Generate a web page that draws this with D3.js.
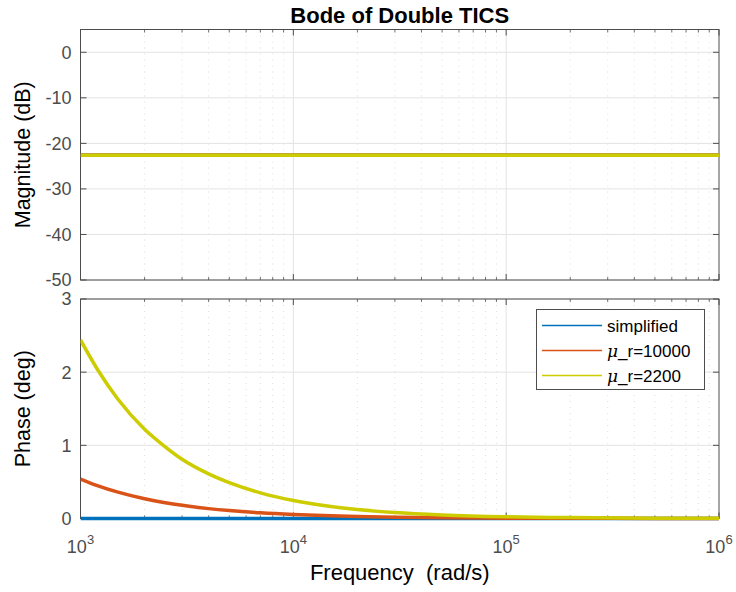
<!DOCTYPE html>
<html>
<head>
<meta charset="utf-8">
<script src="https://cdn.jsdelivr.net/npm/d3@7"></script>
<style>
  html, body { margin: 0; padding: 0; background: #fff; }
  svg { display: block; font-family: "Liberation Sans", Arial, Helvetica, sans-serif; }
</style>
</head>
<body>
<svg id="chart" width="736" height="592"></svg>
<script>
// Frequency samples (rad/s)
const freq = [1000, 1200, 1500, 2000, 2500, 3000, 4000, 5000, 7000, 10000,
              15000, 20000, 30000, 50000, 100000, 200000, 500000, 1000000];

// Magnitude (dB) for each model
const magSimplified = [-22.6, -22.6, -22.6, -22.6, -22.6, -22.6, -22.6, -22.6, -22.6, -22.6,
                       -22.6, -22.6, -22.6, -22.6, -22.6, -22.6, -22.6, -22.6];
const magMu10000 = [-22.6, -22.6, -22.6, -22.6, -22.6, -22.6, -22.6, -22.6, -22.6, -22.6,
                    -22.6, -22.6, -22.6, -22.6, -22.6, -22.6, -22.6, -22.6];
const magMu2200 = [-22.6, -22.6, -22.6, -22.6, -22.6, -22.6, -22.6, -22.6, -22.6, -22.6,
                   -22.6, -22.6, -22.6, -22.6, -22.6, -22.6, -22.6, -22.6];

// Phase (deg) for each model
const phaseSimplified = [0, 0, 0, 0, 0, 0, 0, 0, 0, 0, 0, 0, 0, 0, 0, 0, 0, 0];
const phaseMu10000 = [0.54, 0.45, 0.36, 0.27, 0.216, 0.18, 0.135, 0.108, 0.077, 0.054,
                      0.036, 0.027, 0.018, 0.011, 0.005, 0.003, 0.001, 0.0005];
const phaseMu2200 = [2.44, 2.04, 1.63, 1.22, 0.98, 0.81, 0.61, 0.49, 0.35, 0.245,
                     0.163, 0.122, 0.081, 0.049, 0.024, 0.012, 0.005, 0.002];

const seriesNames = ["simplified", "\u03bc_r=10000", "\u03bc_r=2200"];
const seriesColors = ["#0072bd", "#d95319", "#cccc00"];

const magTicks = [0, -10, -20, -30, -40, -50];
const phaseTicks = [0, 1, 2, 3];
const decadeTicks = [1e3, 1e4, 1e5, 1e6];

const titleText = "Bode of Double TICS";
const xLabel = "Frequency\u00a0\u00a0(rad/s)";
const magLabel = "Magnitude (dB)";
const phaseLabel = "Phase (deg)";

const svg = d3.select("#chart");

const left = 80.5, right = 719;
const x = d3.scaleLog().domain([1e3, 1e6]).range([left, right]);

const panels = [
  { top: 29.5, bottom: 280, domain: [-50, 5], ticks: magTicks, label: magLabel,
    data: [magSimplified, magMu10000, magMu2200] },
  { top: 299, bottom: 518.5, domain: [0, 3], ticks: phaseTicks, label: phaseLabel,
    data: [phaseSimplified, phaseMu10000, phaseMu2200] }
];

const minorTicks = [];
for (let d = 1e3; d < 1e6; d *= 10) for (let k = 2; k <= 9; k++) minorTicks.push(d * k);

const axisColor = "#4d4d4d";
const gridColor = "#e3e3e3";

panels.forEach((p, i) => {
  const y = d3.scaleLinear().domain(p.domain).range([p.bottom, p.top]);
  const g = svg.append("g");

  // minor vertical grid (dotted)
  g.selectAll(".mgrid").data(minorTicks).join("line")
    .attr("x1", d => x(d)).attr("x2", d => x(d))
    .attr("y1", p.top).attr("y2", p.bottom)
    .attr("stroke", "#d6d6d6").attr("stroke-width", 0.8)
    .attr("stroke-dasharray", "1,5");

  // major grid
  g.selectAll(".xgrid").data(decadeTicks.slice(1, -1)).join("line")
    .attr("x1", d => x(d)).attr("x2", d => x(d))
    .attr("y1", p.top).attr("y2", p.bottom)
    .attr("stroke", gridColor).attr("stroke-width", 1);
  g.selectAll(".ygrid").data(p.ticks).join("line")
    .attr("x1", left).attr("x2", right)
    .attr("y1", d => y(d)).attr("y2", d => y(d))
    .attr("stroke", gridColor).attr("stroke-width", 1);

  // box
  g.append("rect").attr("x", left).attr("y", p.top)
    .attr("width", right - left).attr("height", p.bottom - p.top)
    .attr("fill", "none").attr("stroke", axisColor).attr("stroke-width", 1);

  // x ticks (inside, top and bottom)
  g.selectAll(".xmaj").data(decadeTicks).join("path")
    .attr("d", d => `M${x(d)},${p.bottom}v-6M${x(d)},${p.top}v6`)
    .attr("stroke", axisColor);
  g.selectAll(".xmin").data(minorTicks).join("path")
    .attr("d", d => `M${x(d)},${p.bottom}v-3M${x(d)},${p.top}v3`)
    .attr("stroke", axisColor).attr("stroke-width", 0.8);

  // y ticks (inside, left and right)
  g.selectAll(".ymaj").data(p.ticks).join("path")
    .attr("d", d => `M${left},${y(d)}h6M${right},${y(d)}h-6`)
    .attr("stroke", axisColor);

  // data lines, drawn over the axes box
  const clipId = "clip" + i;
  svg.append("clipPath").attr("id", clipId).append("rect")
    .attr("x", left).attr("y", p.top - 4).attr("width", right - left).attr("height", p.bottom - p.top + 8);
  const line = d3.line().x((d, j) => x(freq[j])).y(d => y(d)).curve(d3.curveMonotoneX);
  const lg = g.append("g").attr("clip-path", `url(#${clipId})`);
  p.data.forEach((vals, s) => {
    lg.append("path").attr("d", line(vals))
      .attr("fill", "none").attr("stroke", seriesColors[s])
      .attr("stroke-width", 3.5).attr("stroke-linejoin", "round");
  });

  // y tick labels
  g.selectAll(".ylab").data(p.ticks).join("text")
    .attr("x", left - 9).attr("y", d => y(d))
    .attr("dy", "0.36em").attr("text-anchor", "end")
    .attr("font-size", 18).attr("fill", axisColor)
    .text(d => d);

  // y axis label
  svg.append("text")
    .attr("transform", `translate(30,${(p.top + p.bottom) / 2}) rotate(-90)`)
    .attr("text-anchor", "middle").attr("font-size", 21.5).attr("fill", "#000")
    .text(p.label);
});

// x tick labels as powers of ten
const xl = svg.append("g");
decadeTicks.forEach(d => {
  const t = xl.append("text").attr("x", x(d)).attr("y", 553)
    .attr("text-anchor", "middle").attr("fill", axisColor).attr("font-size", 18);
  t.append("tspan").text("10");
  t.append("tspan").attr("dy", -9).attr("font-size", 13).text(Math.round(Math.log10(d)));
});

// x label
svg.append("text").attr("x", (left + right) / 2).attr("y", 580)
  .attr("text-anchor", "middle").attr("font-size", 22).attr("fill", "#000")
  .text(xLabel);

// title
svg.append("text").attr("x", (left + right) / 2).attr("y", 23)
  .attr("text-anchor", "middle").attr("font-size", 22).attr("font-weight", "bold")
  .attr("fill", "#000").text(titleText);

// legend
const leg = svg.append("g");
leg.append("rect").attr("x", 536.5).attr("y", 309.5).attr("width", 168).attr("height", 80)
  .attr("fill", "#fff").attr("stroke", axisColor).attr("stroke-width", 1);
seriesNames.forEach((name, s) => {
  const yy = 325.5 + s * 25;
  leg.append("line").attr("x1", 542).attr("x2", 602).attr("y1", yy).attr("y2", yy)
    .attr("stroke", seriesColors[s]).attr("stroke-width", 1.5);
  const t = leg.append("text").attr("x", 607).attr("y", yy).attr("dy", "0.36em")
    .attr("font-size", 17).attr("fill", "#000");
  if (name.startsWith("\u03bc")) {
    t.append("tspan").attr("font-style", "italic").attr("font-family", "'DejaVu Serif', serif").text("\u03bc");
    t.append("tspan").text(name.slice(1));
  } else {
    t.text(name);
  }
});
</script>
</body>
</html>
